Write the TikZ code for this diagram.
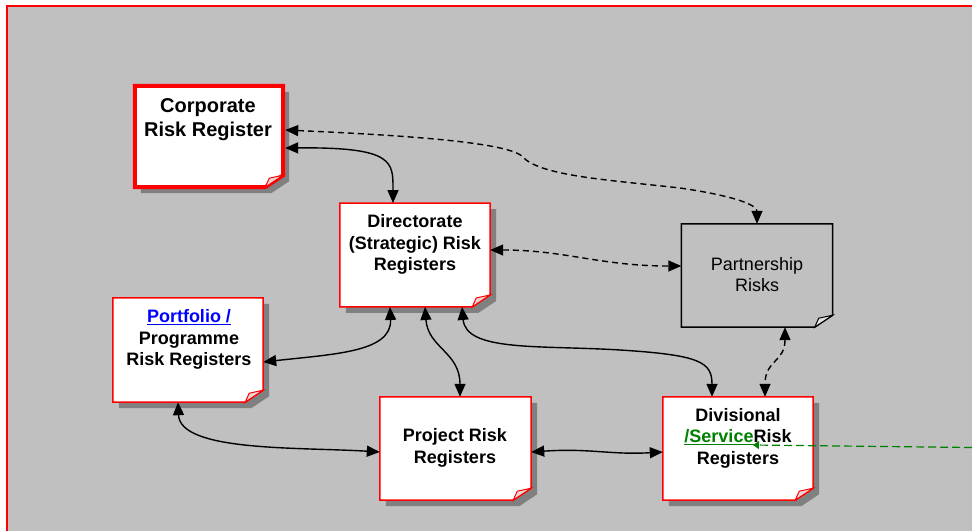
\documentclass[tikz,border=0pt]{standalone}
\usepackage{fontspec}
\setmainfont{Liberation Sans}
\usetikzlibrary{arrows.meta,calc}
\definecolor{bggray}{HTML}{C0C0C0}
\definecolor{shadowgray}{HTML}{808080}
\definecolor{framered}{HTML}{FF0000}
\definecolor{linkblue}{HTML}{0000FF}
\definecolor{linkgreen}{HTML}{008000}
\definecolor{flapred}{HTML}{EAD6D6}
\definecolor{flapgray}{HTML}{E2E2E2}
\tikzset{
  boxnode/.style={rectangle, inner sep=0pt, draw=none},
  txt/.style={inner sep=0pt, align=center, font=\fontsize{18}{21.5}\selectfont\bfseries},
  conn/.style={line width=1.4pt, {Triangle[length=13pt,width=11pt]}-{Triangle[length=13pt,width=11pt]}},
  dconn/.style={conn, dash pattern=on 6pt off 4pt},
}
% #1 node name, #2 outline style, #3 fill colour, #4 flap fill, #5 draw shadow (1/0)
\newcommand\paperbox[5]{%
  \ifnum#5=1
  \fill[shadowgray] ([shift={(6pt,-6pt)}]#1.north west) -- ([shift={(6pt,-6pt)}]#1.north east)
     -- ([shift={(6pt,6pt)}]#1.south east) -- ([shift={(-12pt,-6pt)}]#1.south east)
     -- ([shift={(6pt,-6pt)}]#1.south west) -- cycle;
  \fi
  \path[fill=#3,#2,line join=miter] (#1.north west) -- (#1.north east) -- ([yshift=12pt]#1.south east)
     -- ([xshift=-18pt]#1.south east) -- (#1.south west) -- cycle;
  \path[fill=#4,#2,line width=1pt] ([yshift=12pt]#1.south east) -- ([xshift=-18pt]#1.south east)
     -- ([shift={(-14pt,9pt)}]#1.south east) -- cycle;
}
\begin{document}
\begin{tikzpicture}[x=1pt,y=-1pt]
\useasboundingbox (0,0) rectangle (972,531);
\fill[white] (0,0) rectangle (972,531);
\fill[bggray] (7,6) rectangle (972,531);
\draw[framered, line width=2pt] (7,531) -- (7,6) -- (972,6);

% box nodes
\node[boxnode, minimum width=148pt, minimum height=101pt] (corp) at (209,136.5) {};
\node[boxnode, minimum width=150pt, minimum height=103.5pt] (dir) at (415,255) {};
\node[boxnode, minimum width=151pt, minimum height=103pt] (part) at (757,275.5) {};
\node[boxnode, minimum width=150pt, minimum height=104pt] (port) at (188,350) {};
\node[boxnode, minimum width=151pt, minimum height=103pt] (proj) at (455.5,448.5) {};
\node[boxnode, minimum width=150pt, minimum height=103pt] (div) at (738,448.5) {};

\paperbox{corp}{draw=framered,line width=4pt}{white}{flapred}{1}
\paperbox{dir}{draw=framered,line width=1.5pt}{white}{flapred}{1}
\paperbox{part}{draw=black,line width=1.5pt}{bggray}{flapgray}{0}
\paperbox{port}{draw=framered,line width=1.5pt}{white}{flapred}{1}
\paperbox{proj}{draw=framered,line width=1.5pt}{white}{flapred}{1}
\paperbox{div}{draw=framered,line width=1.5pt}{white}{flapred}{1}

% texts
\node[txt, font=\fontsize{20}{24}\selectfont\bfseries] (corpt) at (208,120) {Corporate\\Risk Register};
\node[txt] (dirt) at (415,244.5) {Directorate\\(Strategic) Risk\\Registers};
\node[txt, font=\fontsize{18}{21}\selectfont] (partt) at (757,275) {Partnership\\Risks};
\node[txt] (portt) at (189,339.5) {\textcolor{linkblue}{\underline{Portfolio /}}\\Programme\\Risk Registers};
\node[txt] (projt) at (455,448) {Project Risk\\Registers};
\node[txt] (divt) at (738,438) {Divisional\\\textcolor{linkgreen}{\underline{/Service}}Risk\\Registers};

% connectors
\draw[dconn] ([shift={(2pt,6.5pt)}]corp.east) .. controls (420,136) and (505,143) .. (522,156)
   .. controls (538,176) and (610,180) .. (680,188) .. controls (735,196) and (757,205) .. (part.north);
\draw[conn] ([shift={(2pt,-11.5pt)}]corp.east) .. controls (395,147) and (393,162) .. ([xshift=-22pt]dir.north);
\draw[dconn] ([yshift=5pt]dir.east) .. controls (565,250) and (600,266) .. ([yshift=9.5pt]part.west);
\draw[conn] ([xshift=-25pt]dir.south) .. controls (392,352) and (335,354) .. ([yshift=-12pt]port.east);
\draw[conn] ([xshift=10pt]dir.south) .. controls (428,348) and (460,352) .. ([xshift=4.5pt]proj.north);
\draw[conn] ([xshift=47pt]dir.south) .. controls (466,352) and (540,345) .. (620,350)
   .. controls (700,355) and (712,362) .. ([xshift=-26pt]div.north);
\draw[dconn] ([xshift=28pt]part.south) .. controls (785,362) and (765,360) .. ([xshift=27pt]div.north);
\draw[conn] ([xshift=-10pt]port.south) .. controls (180,452) and (300,447) .. ([yshift=-3.5pt]proj.west);
\draw[conn] ([yshift=-3.5pt]proj.east) .. controls (590,448) and (610,455) .. ([yshift=-3.5pt]div.west);

% green link connector
\coordinate (redge) at (972,447.5);
\coordinate (svc) at (753,445);
\draw[linkgreen, line width=1.2pt, dash pattern=on 8pt off 4pt, -{Triangle[length=6pt,width=8pt]}] (redge) -- (svc);
\end{tikzpicture}
\end{document}
